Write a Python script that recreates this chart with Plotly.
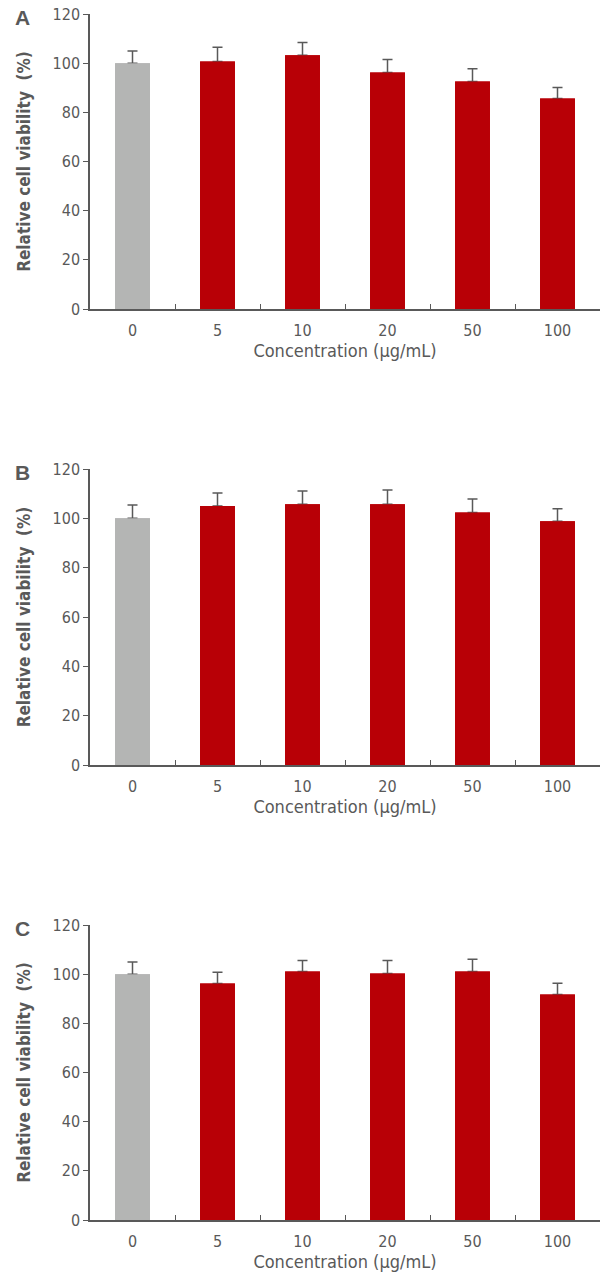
import plotly.graph_objects as go

categories = ["0", "5", "10", "20", "50", "100"]
panel_labels = ["A", "B", "C"]
values_a = [100, 100.7, 103.2, 96.2, 92.5, 85.6]
errors_a = [5.0, 5.8, 5.2, 5.3, 5.2, 4.5]
values_b = [100, 105.0, 105.7, 105.7, 102.4, 98.8]
errors_b = [5.4, 5.3, 5.4, 5.8, 5.4, 5.1]
values_c = [100, 96.2, 101.1, 100.3, 101.1, 91.7]
errors_c = [5.0, 4.6, 4.5, 5.3, 5.0, 4.6]
y_ticks = [0, 20, 40, 60, 80, 100, 120]

bar_colors = ["#B4B5B4"] + ["#B80006"] * 5
axis_color = "#595959"
font_family = "DejaVu Sans Condensed, Liberation Sans Narrow, sans-serif"

W, H = 600, 1273
mt, mb = 10, 40
plot_h = H - mt - mb
def dom(top_px, bottom_px):
    return [(H - mb - bottom_px) / plot_h, (H - mb - top_px) / plot_h]

domains = [dom(14, 309), dom(469, 765), dom(925, 1220)]
panel_top_px = [17, 472, 928]
series = [(values_a, errors_a), (values_b, errors_b), (values_c, errors_c)]

fig = go.Figure()
layout = dict(
    width=W, height=H,
    margin=dict(l=90, r=0, t=mt, b=mb),
    paper_bgcolor="white", plot_bgcolor="white",
    showlegend=False,
    font=dict(family=font_family, color=axis_color, size=14),
    bargap=0.59, barmode="overlay",
)
annotations = []
for i, (vals, errs) in enumerate(series):
    n = "" if i == 0 else str(i + 1)
    # bars with upper error bars
    fig.add_trace(go.Bar(
        x=categories, y=vals,
        marker=dict(color=bar_colors, line=dict(width=0)),
        error_y=dict(type="data", symmetric=False, array=errs,
                     arrayminus=[0] * len(errs), color=axis_color,
                     thickness=1.5, width=5),
        xaxis="x" + n, yaxis="y" + n, hoverinfo="skip",
    ))
    # same bars drawn again on top to hide the zero-length lower cap
    fig.add_trace(go.Bar(
        x=categories, y=vals,
        marker=dict(color=bar_colors, line=dict(width=0)),
        xaxis="x" + n, yaxis="y" + n,
    ))
    layout["xaxis" + n] = dict(
        domain=[0, 1], anchor="y" + n, type="category",
        range=[-0.5, 5.5], showline=True, linecolor=axis_color, linewidth=1.5,
        ticks="inside", tickson="boundaries", ticklen=5, tickcolor=axis_color,
        tickwidth=1.2, showgrid=False, zeroline=False,
        ticklabelstandoff=6,
        tickfont=dict(size=16, color=axis_color),
        title=dict(text="Concentration (μg/mL)", standoff=4,
                   font=dict(size=18, color=axis_color)),
    )
    layout["yaxis" + n] = dict(
        domain=domains[i], anchor="x" + n, range=[0, 120],
        tickvals=y_ticks, showline=True, linecolor=axis_color, linewidth=1.5,
        ticks="outside", ticklen=5, tickcolor=axis_color, tickwidth=1.2,
        showgrid=False, zeroline=False,
        tickfont=dict(size=16, color=axis_color),
        title=dict(text="<b>Relative cell viability  (%)</b>", standoff=18,
                   font=dict(size=17, color=axis_color)),
    )
    annotations.append(dict(
        text="<b>" + panel_labels[i] + "</b>", xref="paper", yref="paper",
        x=(13 - 90) / 510, y=(H - mb - panel_top_px[i]) / plot_h,
        xanchor="left", yanchor="middle", showarrow=False,
        font=dict(size=21, color=axis_color, family="Liberation Sans, Arial, sans-serif"),
    ))
layout["annotations"] = annotations
fig.update_layout(**layout)
fig.write_html("out.html")
